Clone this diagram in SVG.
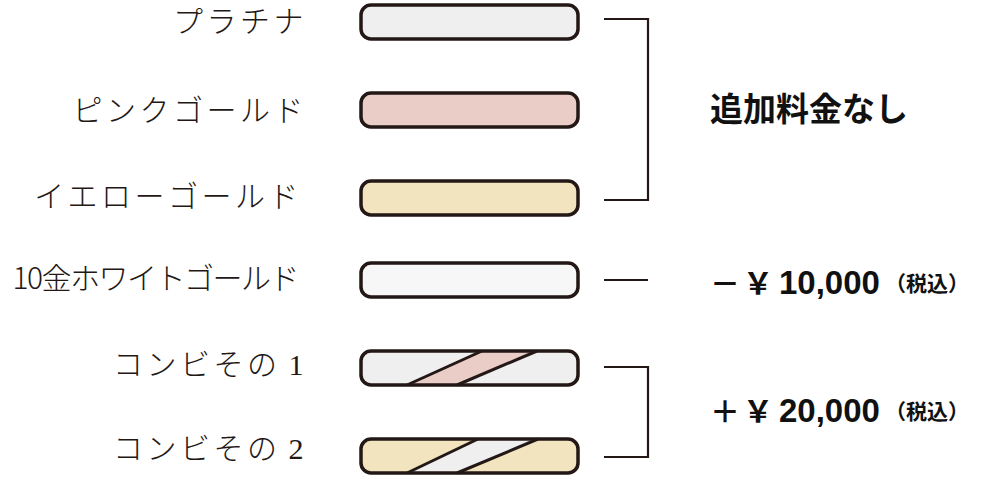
<svg xmlns="http://www.w3.org/2000/svg" width="1000" height="482" viewBox="0 0 1000 482">
<style>
.lbl{font-family:"Noto Sans CJK JP","Noto Sans",sans-serif;font-weight:300;font-size:30px;fill:#231815;letter-spacing:3.5px;text-anchor:end}
.bar{stroke:#231815;stroke-width:3.5}
.edge{stroke:#231815;stroke-width:3;fill:none}
.con{stroke:#231815;stroke-width:2.2;fill:none}
.big{font-family:"Noto Sans CJK JP",sans-serif;font-weight:700;fill:#111}
.num{font-family:"Liberation Sans",Arial,sans-serif;font-weight:700;font-size:33px;fill:#111}
</style>
<rect width="1000" height="482" fill="#fff"/>
<g id="platinum">
<text class="lbl" x="307" y="32">プラチナ</text>
<rect class="bar" x="361" y="5" width="217" height="34" rx="10" fill="#efefef"/>
</g>
<g id="pinkgold">
<text class="lbl" x="307" y="121">ピンクゴールド</text>
<rect class="bar" x="361" y="93" width="217" height="34" rx="10" fill="#e9cdc6"/>
</g>
<g id="yellowgold">
<text class="lbl" x="302" y="207">イエローゴールド</text>
<rect class="bar" x="361" y="181" width="217" height="34" rx="10" fill="#f2e4bf"/>
</g>
<g id="whitegold">
<text class="lbl" x="298" y="289" style="letter-spacing:-1.5px">10金ホワイトゴールド</text>
<rect class="bar" x="361" y="263" width="217" height="34" rx="10" fill="#f7f7f7"/>
</g>
<g id="combi1">
<text class="lbl" x="307" y="375">コンビその<tspan font-family="Liberation Serif,serif" font-size="30" dx="8">1</tspan></text>
<rect x="361" y="351" width="217" height="34" rx="10" fill="#efefef"/>
<polygon points="407,385 482,351 537,351 457,385" fill="#e9cdc6"/>
<line class="edge" x1="407" y1="385" x2="482" y2="351"/>
<line class="edge" x1="457" y1="385" x2="537" y2="351"/>
<rect class="bar" x="361" y="351" width="217" height="34" rx="10" fill="none"/>
</g>
<g id="combi2">
<text class="lbl" x="307" y="459">コンビその<tspan font-family="Liberation Serif,serif" font-size="30" dx="8">2</tspan></text>
<rect x="361" y="439" width="217" height="34" rx="10" fill="#f2e4bf"/>
<polygon points="407,473 478,439 538,439 457,473" fill="#efefef"/>
<line class="edge" x1="407" y1="473" x2="478" y2="439"/>
<line class="edge" x1="457" y1="473" x2="538" y2="439"/>
<rect class="bar" x="361" y="439" width="217" height="34" rx="10" fill="none"/>
</g>
<g id="connectors">
<polyline class="con" points="604,19 648,19 648,200 604,200"/>
<line class="con" x1="604" y1="280" x2="648" y2="280"/>
<polyline class="con" points="604,367 648,367 648,457 604,457"/>
</g>
<g id="price-none">
<text class="big" x="710" y="121" font-size="33">追加料金なし</text>
</g>
<g id="price-minus">
<text class="big" x="710" y="294" font-size="30">－</text>
<text class="big" x="743" y="294" font-size="30">￥</text>
<text class="num" x="779" y="294">10,000</text>
<text class="big" x="885" y="291" font-size="21">（税込）</text>
</g>
<g id="price-plus">
<text class="big" x="710" y="422" font-size="30">＋</text>
<text class="big" x="743" y="422" font-size="30">￥</text>
<text class="num" x="779" y="422">20,000</text>
<text class="big" x="885" y="419" font-size="21">（税込）</text>
</g>
</svg>
